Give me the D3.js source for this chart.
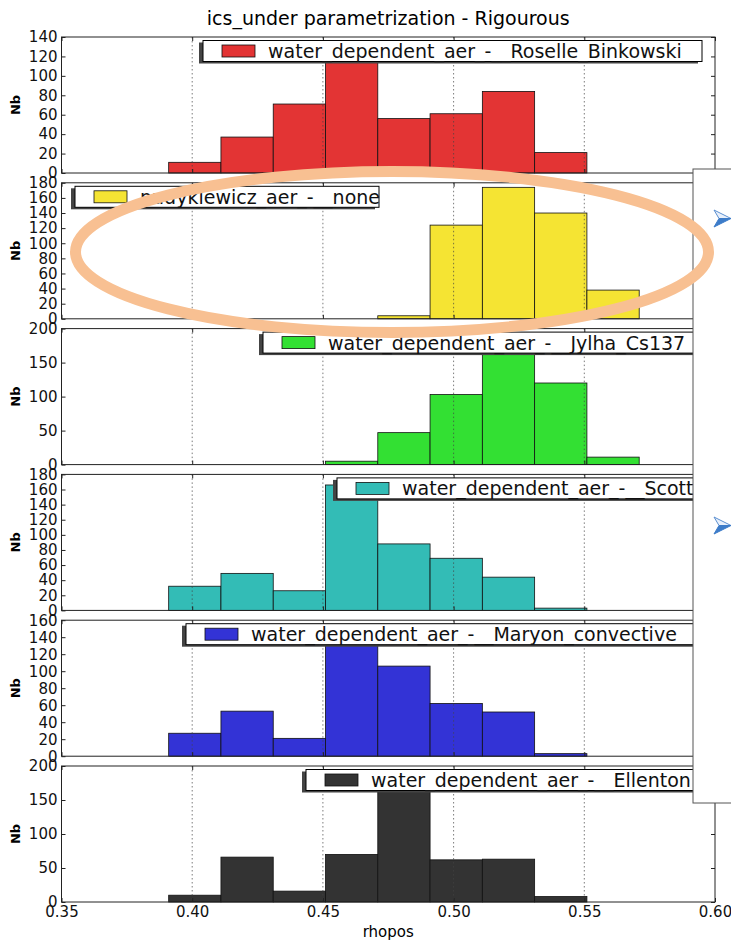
<!DOCTYPE html>
<html>
<head>
<meta charset="utf-8">
<script src="https://cdn.jsdelivr.net/npm/d3@7"></script>
<style>
  body { margin: 0; background: #fff; }
  svg { display: block; font-family: "DejaVu Sans", sans-serif; }
</style>
</head>
<body>
<div id="chart"></div>
<script>
// histogram bins: left edges, every bin is 0.02 wide
const binStarts = [0.391, 0.411, 0.431, 0.451, 0.471, 0.491, 0.511, 0.531, 0.551];
const binWidth = 0.02;

// legend labels, one per panel
const seriesNames = [
    "water_dependent_aer_-__Roselle_Binkowski",
    "pudykiewicz_aer_-__none",
    "water_dependent_aer_-__Jylha_Cs137",
    "water_dependent_aer_-__Scott",
    "water_dependent_aer_-__Maryon_convective",
    "water_dependent_aer_-__Ellenton"
];

// counts per bin
const roselleCounts   = [11, 37, 71, 118, 56, 61, 84, 21, 0];
const pudykiewiczCounts = [0, 0, 0, 0, 4, 124, 174, 140, 38];
const jylhaCounts     = [0, 0, 0, 5, 47, 103, 170, 120, 11];
const scottCounts     = [32, 49, 26, 166, 88, 69, 44, 3, 0];
const maryonCounts    = [27, 53, 21, 135, 106, 62, 52, 3, 0];
const ellentonCounts  = [10, 66, 16, 70, 175, 62, 63, 8, 0];

// y axis of every panel
const yMaxes = [140, 180, 200, 180, 160, 200];
const yTickSteps = [20, 20, 50, 20, 20, 50];

const xTickValues = [0.35, 0.40, 0.45, 0.50, 0.55, 0.60];
const gridValues = [0.40, 0.45, 0.50, 0.55];

const titleText = "ics_under parametrization - Rigourous";
const xLabel = "rhopos";
const yLabel = "Nb";

// styling / layout
const colors = ["#e33434", "#f5e433", "#33e033", "#33bcb6", "#3333d6", "#333333"];
const legendSpan = [[203, 702], [75, 379], [263, 760], [337, 760], [186, 760], [306, 760]];

const allCounts = [roselleCounts, pudykiewiczCounts, jylhaCounts, scottCounts, maryonCounts, ellentonCounts];

const width = 731, height = 943;
const plotLeft = 61.5, plotRight = 715;
const firstTop = 37, panelH = 136, panelStep = 145.8;

const svg = d3.select("#chart")
    .append("svg")
    .attr("width", width)
    .attr("height", height);

svg.append("rect").attr("width", width).attr("height", height).attr("fill", "#fff");

const x = d3.scaleLinear().domain([0.35, 0.60]).range([plotLeft, plotRight]);

// title
svg.append("text")
    .attr("x", (plotLeft + plotRight) / 2)
    .attr("y", 25)
    .attr("text-anchor", "middle")
    .style("font-size", "19px")
    .text(titleText);

allCounts.forEach((counts, i) => {
    const top = firstTop + i * panelStep;
    const bottom = top + panelH;
    const y = d3.scaleLinear().domain([0, yMaxes[i]]).range([bottom, top]);
    const yTicks = d3.range(0, yMaxes[i] + 1, yTickSteps[i]);

    const g = svg.append("g").attr("class", "panel");

    g.append("rect")
        .attr("x", plotLeft).attr("y", top)
        .attr("width", plotRight - plotLeft).attr("height", panelH)
        .attr("fill", "#fff");

    const bins = binStarts.map((b, k) => ({ x0: b, n: counts[k] })).filter(d => d.n > 0);

    g.selectAll("rect.bar")
        .data(bins)
        .enter()
        .append("rect")
        .attr("class", "bar")
        .attr("x", d => x(d.x0))
        .attr("width", d => x(d.x0 + binWidth) - x(d.x0))
        .attr("y", d => y(d.n))
        .attr("height", d => bottom - y(d.n))
        .attr("fill", colors[i])
        .attr("stroke", "#111")
        .attr("stroke-width", 0.8);

    // dotted vertical grid, drawn over the bars like in the original
    g.selectAll("line.grid")
        .data(gridValues)
        .enter()
        .append("line")
        .attr("class", "grid")
        .attr("x1", d => x(d)).attr("x2", d => x(d))
        .attr("y1", top).attr("y2", bottom)
        .attr("stroke", "#444")
        .attr("stroke-width", 0.7)
        .attr("stroke-dasharray", "1.5,2.5");

    // axes, ticks pointing inward
    const yAxisL = g.append("g")
        .attr("transform", `translate(${plotLeft},0)`)
        .call(d3.axisLeft(y).tickValues(yTicks).tickSize(-4).tickPadding(4).tickFormat(d3.format("d")));
    const yAxisR = g.append("g")
        .attr("transform", `translate(${plotRight},0)`)
        .call(d3.axisRight(y).tickValues(yTicks).tickSize(-4).tickFormat(""));
    const xAxisT = g.append("g")
        .attr("transform", `translate(0,${top})`)
        .call(d3.axisTop(x).tickValues(xTickValues).tickSize(-4).tickFormat(""));
    const xAxisB = g.append("g")
        .attr("transform", `translate(0,${bottom})`)
        .call(d3.axisBottom(x).tickValues(xTickValues).tickSize(-4).tickPadding(4)
            .tickFormat(i === allCounts.length - 1 ? d3.format(".2f") : ""));

    [yAxisL, yAxisR, xAxisT, xAxisB].forEach(a => {
        a.select(".domain").remove();
        a.selectAll("line").attr("stroke", "#222");
        a.selectAll("text")
            .attr("fill", "#111")
            .style("font-family", "DejaVu Sans, sans-serif")
            .style("font-size", "15px");
    });

    g.append("rect")
        .attr("x", plotLeft).attr("y", top)
        .attr("width", plotRight - plotLeft).attr("height", panelH)
        .attr("fill", "none")
        .attr("stroke", "#222")
        .attr("stroke-width", 1);

    g.append("text")
        .attr("transform", `translate(15,${(top + bottom) / 2}) rotate(-90)`)
        .attr("text-anchor", "middle")
        .attr("dominant-baseline", "central")
        .style("font-size", "13px")
        .style("font-weight", "bold")
        .text(yLabel);

    // legend with its shadow
    const lx = legendSpan[i][0], lw = legendSpan[i][1] - legendSpan[i][0];
    const ly = top + 3.5, lh = 21;
    const legend = g.append("g").attr("class", "legend");
    legend.append("rect")
        .attr("x", lx - 4).attr("y", ly + 2)
        .attr("width", lw).attr("height", lh)
        .attr("fill", "#444");
    legend.append("rect")
        .attr("x", lx).attr("y", ly)
        .attr("width", lw).attr("height", lh)
        .attr("fill", "#fff")
        .attr("stroke", "#000")
        .attr("stroke-width", 1);
    legend.append("rect")
        .attr("x", lx + 19).attr("y", ly + lh / 2 - 6)
        .attr("width", 33).attr("height", 12)
        .attr("fill", colors[i])
        .attr("stroke", "#111")
        .attr("stroke-width", 0.8);
    legend.append("text")
        .attr("x", lx + 65)
        .attr("y", ly + lh / 2)
        .attr("dominant-baseline", "central")
        .style("font-size", "19px")
        .attr("fill", "#111")
        .text(seriesNames[i]);
});

// x axis label
svg.append("text")
    .attr("x", (plotLeft + plotRight) / 2)
    .attr("y", 937)
    .attr("text-anchor", "middle")
    .style("font-size", "15px")
    .text(xLabel);

// side overlay panel with its two arrow icons
const side = svg.append("g").attr("class", "side");
side.append("rect")
    .attr("x", 693).attr("y", 169)
    .attr("width", 60).attr("height", 634)
    .attr("fill", "#fff")
    .attr("stroke", "#555")
    .attr("stroke-width", 1);

[210, 517].forEach(ay => {
    const a = side.append("g").attr("transform", `translate(714,${ay})`);
    a.append("path")
        .attr("d", "M0,0 L17,8.5 L5,8.5 Z")
        .attr("fill", "#e8f0fb")
        .attr("stroke", "#5b8fd0")
        .attr("stroke-width", 1);
    a.append("path")
        .attr("d", "M5,8.5 L17,8.5 L0,17 Z")
        .attr("fill", "#3d7cc9")
        .attr("stroke", "#3d7cc9")
        .attr("stroke-width", 1);
});

// orange annotation ellipse on top of everything
svg.append("ellipse")
    .attr("cx", 392).attr("cy", 252)
    .attr("rx", 316.5).attr("ry", 80.5)
    .attr("fill", "none")
    .attr("stroke", "#f8c092")
    .attr("stroke-width", 11);
</script>
</body>
</html>
